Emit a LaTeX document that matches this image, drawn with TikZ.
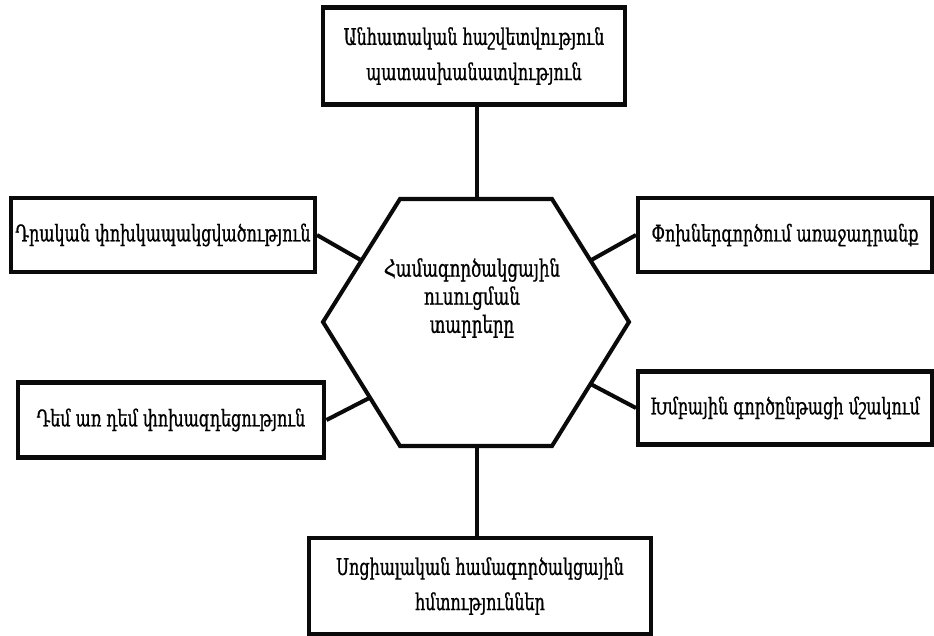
\documentclass[tikz,border=0pt]{standalone}
\usepackage{fontspec}
\setmainfont{DejaVu Serif}[FakeStretch=0.7,FakeBold=0.8]
\usepackage{xcolor}
\usetikzlibrary{calc}
\definecolor{edge}{RGB}{10,10,10}
\tikzstyle{box}=[draw=edge, line width=2.3pt, fill=white, align=center, inner sep=2pt, font=\fontsize{13}{20}\selectfont]
\tikzstyle{link}=[draw=edge, line width=2.3pt]

\begin{document}
\begin{tikzpicture}[x=0.02cm,y=-0.02cm]
  \useasboundingbox (0,0) rectangle (934,636);
  %% Hexagon in the middle
  \coordinate (H1) at (400,199);
  \coordinate (H2) at (552,199);
  \coordinate (H3) at (629,322);
  \coordinate (H4) at (552,446);
  \coordinate (H5) at (400,446);
  \coordinate (H6) at (323,322);
  \draw[link, fill=white] (H1) -- (H2) -- (H3) -- (H4) -- (H5) -- (H6) -- cycle;
  \draw (472,298) node[align=center, font=\fontsize{13.5}{16}\selectfont] (C) {Համագործակցային\\ուսուցման\\տարրերը};
  \coordinate (HN) at (477,199);
  \coordinate (HS) at (477,446);
  \coordinate (HNW) at ($(H6)!.5!(H1)$);
  \coordinate (HNE) at ($(H2)!.5!(H3)$);
  \coordinate (HSW) at ($(H6)!.61!(H5)$);
  \coordinate (HSE) at ($(H3)!.5!(H4)$);

  %% Boxes round it
  \draw (474,56) node[box, minimum width=6.04cm, minimum height=1.94cm] (T) {Անհատական հաշվետվություն\\պատասխանատվություն};
  \draw (163,235) node[box, minimum width=6.08cm, minimum height=1.48cm] (LT) {Դրական փոխկապակցվածություն};
  \draw (785,235) node[box, minimum width=5.88cm, minimum height=1.48cm] (RT) {Փոխներգործում առաջադրանք};
  \draw (171,420) node[box, minimum width=6.14cm, minimum height=1.5cm] (LB) {Դեմ առ դեմ փոխազդեցություն};
  \draw (785,408) node[box, minimum width=5.88cm, minimum height=1.46cm] (RB) {Խմբային գործընթացի մշակում};
  \draw (480,586) node[box, minimum width=6.86cm, minimum height=1.92cm] (B) {Սոցիալական համագործակցային\\հմտություններ};

  %% Links
  \draw[link] (T.south -| HN) -- (HN);
  \draw[link] (B.north -| HS) -- (HS);
  \draw[link] (LT.east) -- (HNW);
  \draw[link] (RT.west) -- (HNE);
  \draw[link] (LB.east) -- (HSW);
  \draw[link] (RB.west) -- (HSE);
\end{tikzpicture}
\end{document}
